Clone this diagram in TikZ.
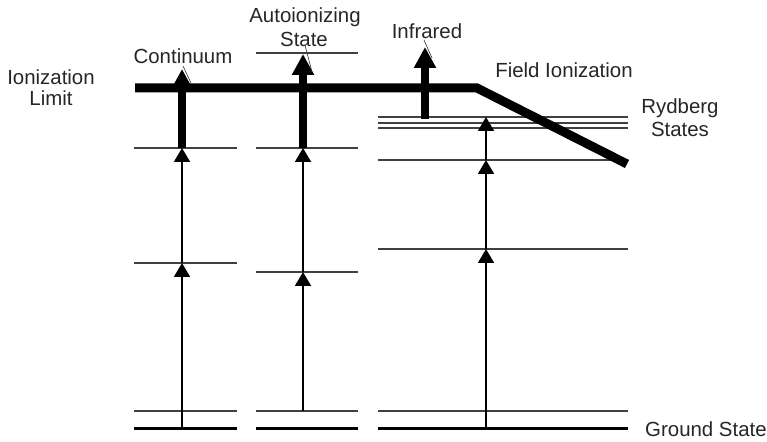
\documentclass[tikz,border=0pt]{standalone}
\usepackage{fontspec}
\setmainfont{Liberation Sans}
\usetikzlibrary{arrows.meta}
\begin{document}
\begin{tikzpicture}[x=1bp,y=-1bp,
  level/.style={line width=1.6bp,draw=black!75},
  ground/.style={line width=3bp,draw=black},
  thinarr/.style={line width=1.8bp,-{Triangle[width=16bp,length=14bp]}},
  thickarr/.style={line width=8bp,-{Triangle[width=21bp,length=21bp]}},
  leader/.style={line width=0.6bp,draw=black!80},
  lbl/.style={font=\fontsize{20.5}{23}\selectfont,text=black!85,inner sep=0pt,anchor=base}]
\useasboundingbox (0,0) rectangle (767,442);

% ---------- levels ----------
% column 1
\draw[level] (134,148) -- (237,148);
\draw[level] (134,263) -- (237,263);
\draw[level] (134,411) -- (237,411);
\draw[ground] (134,428) -- (237,428);
% column 2
\draw[level] (256,53) -- (358,53);
\draw[level] (256,148) -- (358,148);
\draw[level] (256,272) -- (358,272);
\draw[level] (256,411) -- (358,411);
\draw[ground] (256,428) -- (358,428);
% column 3
\draw[level] (378,117) -- (628,117);
\draw[level] (378,123) -- (628,123);
\draw[level] (378,128) -- (628,128);
\draw[level] (378,160) -- (628,160);
\draw[level] (378,249) -- (628,249);
\draw[level] (378,411) -- (628,411);
\draw[ground] (378,428) -- (628,428);

% ---------- ionization limit ----------
\draw[line width=9bp,line join=miter] (135,88) -- (477,88) -- (627,164);

% ---------- transition points ----------
\coordinate (a0) at (182,428);
\coordinate (a1) at (182,263);
\coordinate (a2) at (182,148);
\coordinate (a3) at (182,69);
\coordinate (b0) at (303,411);
\coordinate (b1) at (303,272);
\coordinate (b2) at (303,148);
\coordinate (b3) at (303,54);
\coordinate (c0) at (486,428);
\coordinate (c1) at (486,249);
\coordinate (c2) at (486,160);
\coordinate (c3) at (486,117);
\coordinate (i0) at (425,119);
\coordinate (i1) at (425,47);

\draw[thinarr] (a0) -- (a1);
\draw[thinarr] (a1) -- (a2);
\draw[thickarr] (a2) -- (a3);
\draw[thinarr] (b0) -- (b1);
\draw[thinarr] (b1) -- (b2);
\draw[thickarr] (b2) -- (b3);
\draw[thinarr] (c0) -- (c1);
\draw[thinarr] (c1) -- (c2);
\draw[thinarr] (c2) -- (c3);
\draw[thickarr] (i0) -- (i1);

% ---------- labels ----------
\node[lbl] (ion1) at (51,85) {Ionization};
\node[lbl] (ion2) at (51,106) {Limit};
\node[lbl] (cont) at (183,64) {Continuum};
\node[lbl] (auto1) at (305,22.7) {Autoionizing};
\node[lbl] (auto2) at (304,46.5) {State};
\node[lbl] (ir) at (427,38.3) {Infrared};
\node[lbl] (fi) at (564,78) {Field Ionization};
\node[lbl] (ryd1) at (680,114) {Rydberg};
\node[lbl] (ryd2) at (680,137) {States};
\node[lbl,anchor=base west] (gs) at (645,436.7) {Ground State};

% ---------- leaders ----------
\coordinate (lc) at (191,83);
\coordinate (la) at (312,72);
\coordinate (li) at (432,58);
\draw[leader] (183,66) -- (lc);
\draw[leader] (305,45) -- (la);
\draw[leader] (424,40) -- (li);
\end{tikzpicture}
\end{document}
